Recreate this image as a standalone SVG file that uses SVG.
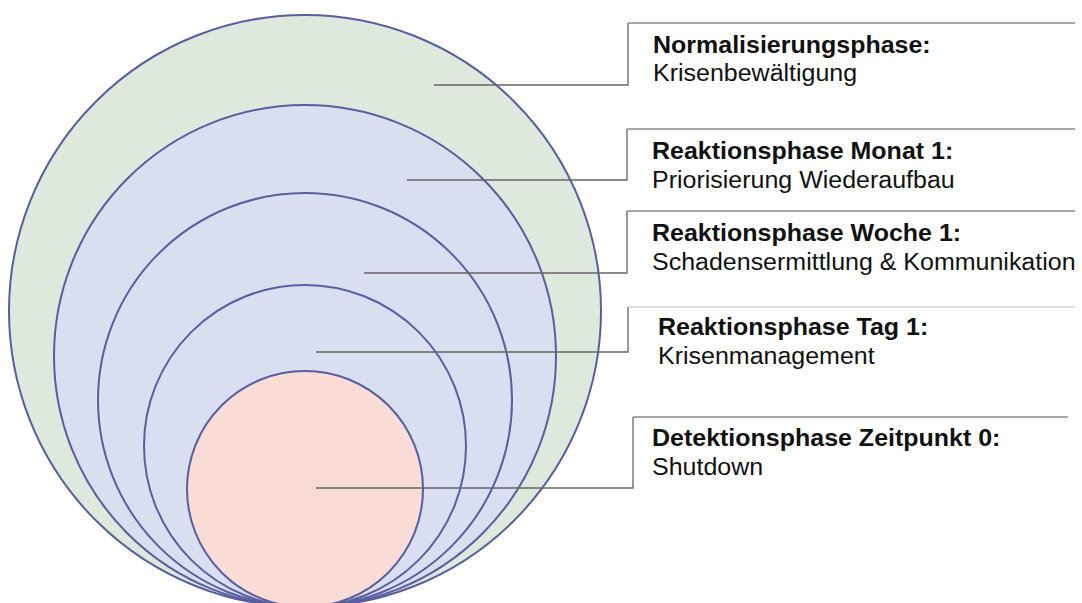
<svg xmlns="http://www.w3.org/2000/svg" width="1082" height="603" viewBox="0 0 1082 603">
<style>
.ring{stroke:#5a5d9f;stroke-width:2}
.green{fill:#dfe8dc}
.blue{fill:#d9dff1}
.pink{fill:#fadcd6}
.lead{fill:none;stroke:#666666;stroke-width:1.3}
.top{fill:none;stroke:#8a8a8a;stroke-width:1.3}
.t{font-family:"Liberation Sans",Arial,sans-serif;font-size:25px;fill:#111111}
.b{font-weight:bold}
</style>
<rect width="1082" height="603" fill="#ffffff"/>
<g id="n-normalisierung"><circle class="ring green" cx="305" cy="311" r="296"/></g>
<g id="n-monat"><circle class="ring blue" cx="305" cy="356" r="251"/></g>
<g id="n-woche"><circle class="ring blue" cx="305" cy="400" r="207"/></g>
<g id="n-tag"><circle class="ring blue" cx="305" cy="446" r="161"/></g>
<g id="n-detektion"><circle class="ring pink" cx="305" cy="489" r="118"/></g>
<g id="connectors">
<polyline class="lead" points="434,85 628,85 628,23"/>
<line class="top" x1="628" y1="23" x2="1075" y2="23"/>
<polyline class="lead" points="407,180 627,180 627,129"/>
<line class="top" x1="627" y1="129" x2="1075" y2="129"/>
<polyline class="lead" points="364,273 627,273 627,211"/>
<line class="top" x1="627" y1="211" x2="1075" y2="211"/>
<polyline class="lead" points="316,352 628,352 628,307"/>
<line x1="628" y1="307" x2="1075" y2="307" stroke="#d4d4d4" stroke-width="1.3"/>
<polyline class="lead" points="316,488 633,488 633,417"/>
<line class="top" x1="633" y1="417" x2="1068" y2="417"/>
</g>
<g id="l-normalisierung">
<text class="t b" transform="translate(653,52.5) scale(1,0.93)">Normalisierungsphase:</text>
<text class="t" transform="translate(653,81) scale(1,0.93)">Krisenbewältigung</text>
</g>
<g id="l-monat">
<text class="t b" transform="translate(652,158.5) scale(1,0.93)">Reaktionsphase Monat 1:</text>
<text class="t" transform="translate(652,187.5) scale(1,0.93)">Priorisierung Wiederaufbau</text>
</g>
<g id="l-woche">
<text class="t b" transform="translate(652,240.5) scale(1,0.93)">Reaktionsphase Woche 1:</text>
<text class="t" transform="translate(652,269.5) scale(1,0.93)">Schadensermittlung &amp; Kommunikation</text>
</g>
<g id="l-tag">
<text class="t b" transform="translate(658,335) scale(1,0.93)">Reaktionsphase Tag 1:</text>
<text class="t" transform="translate(658,363.5) scale(1,0.93)">Krisenmanagement</text>
</g>
<g id="l-detektion">
<text class="t b" transform="translate(652,445.5) scale(1,0.93)">Detektionsphase Zeitpunkt 0:</text>
<text class="t" transform="translate(652,474.5) scale(1,0.93)">Shutdown</text>
</g>
</svg>
